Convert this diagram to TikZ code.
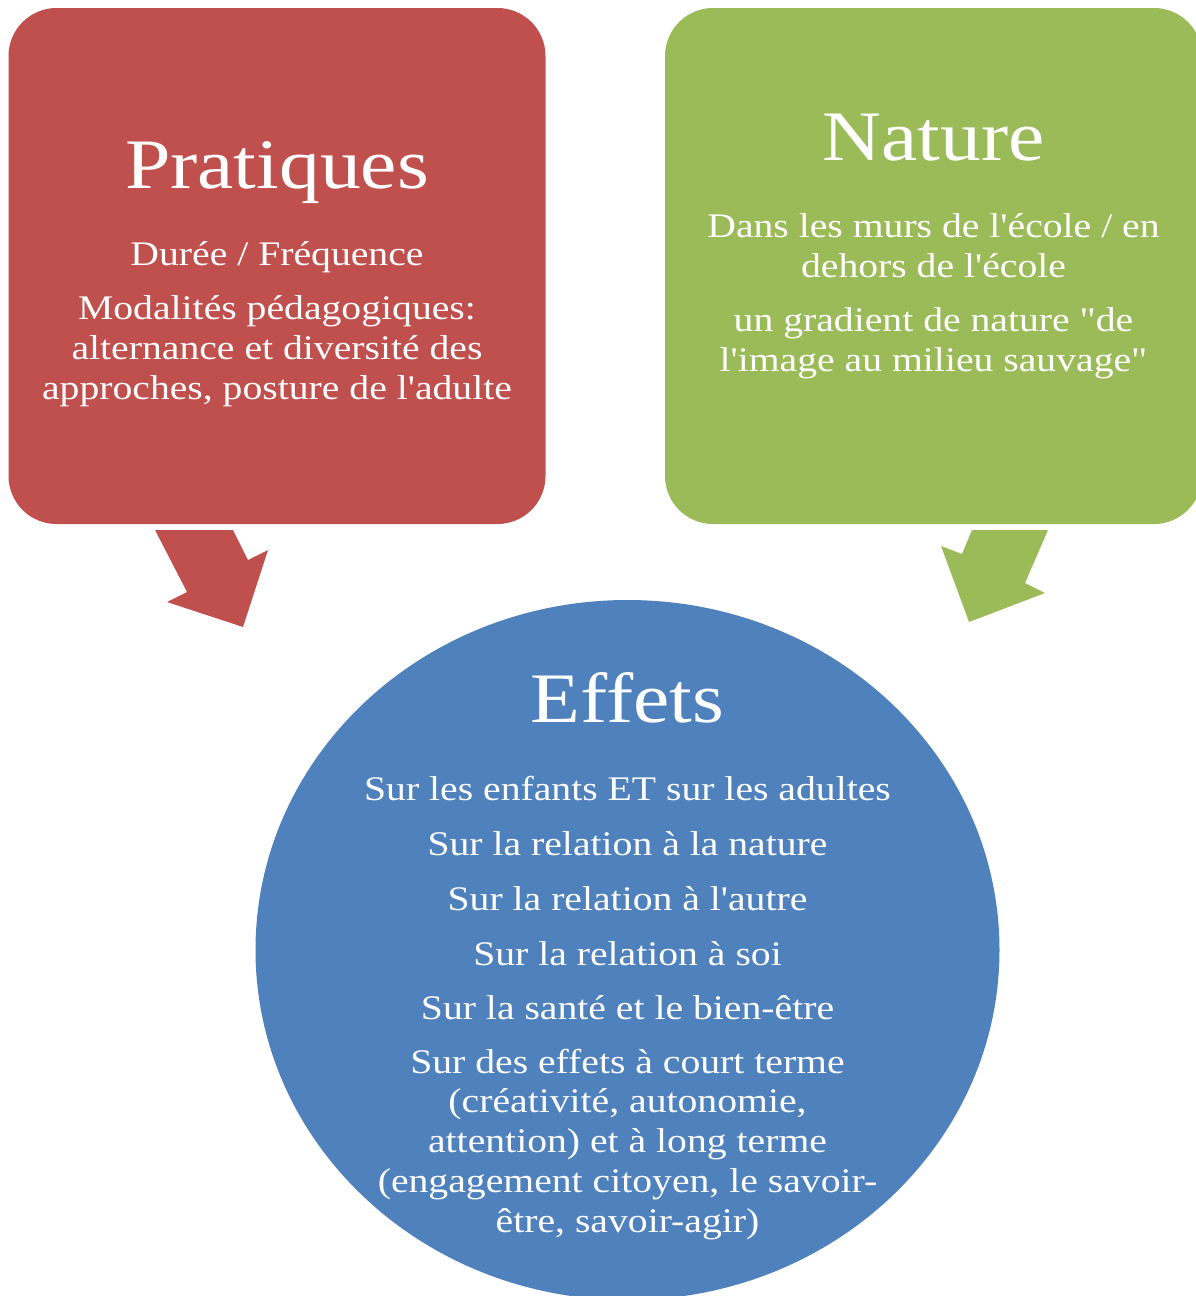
\documentclass[tikz,border=0pt]{standalone}
\usepackage{fontspec}
\setmainfont{Liberation Serif}[Ligatures=TeXOff, FakeStretch=1.15]
\usetikzlibrary{shapes.geometric}
\definecolor{pracred}{HTML}{C0504D}
\definecolor{natgreen}{HTML}{9BBB59}
\definecolor{effblue}{HTML}{4F81BD}

\begin{document}
\begin{tikzpicture}
	[x=1pt, y=-1pt,
	panel/.style={rounded corners=48pt, minimum width=537pt, minimum height=516pt, inner sep=0pt},
	headline/.style={text=white, anchor=base, font=\fontsize{71}{80}\selectfont},
	bodytext/.style={text=white, anchor=base, align=center, font=\fontsize{34.5}{39.75}\selectfont}]
	\clip (0,0) rectangle (1196,1296);
	\useasboundingbox (0,0) rectangle (1196,1296);

	% three blocks
	\node[panel, fill=pracred](prac) at (277,266) {};
	\node[panel, fill=natgreen](nat) at (933.5,266) {};
	\node[ellipse, fill=effblue, minimum width=744pt, minimum height=700pt, inner sep=0pt](eff) at (627.5,950) {};

	% block arrows
	\fill[pracred] (155,530) -- (233,530) -- (248,560) -- (268,550) -- (243,627) -- (167,602) -- (187,592) -- cycle;
	\fill[natgreen] (972,530) -- (1048,530) -- (1025,583) -- (1045,593) -- (969,622) -- (941,546) -- (962,554) -- cycle;

	% Pratiques (multi-line nodes sit on their last baseline)
	\node[headline](pracTitle) at (277,188) {Pratiques};
	\node[bodytext](pracA) at (277,265) {Durée / Fréquence};
	\node[bodytext](pracB) at (277,399) {Modalités pédagogiques:\\alternance et diversité des\\approches, posture de l'adulte};

	% Nature
	\node[headline](natTitle) at (933.5,160) {Nature};
	\node[bodytext](natA) at (933.5,277) {Dans les murs de l'école / en\\dehors de l'école};
	\node[bodytext](natB) at (933.5,371) {un gradient de nature "de\\l'image au milieu sauvage"};

	% Effets
	\node[headline](effTitle) at (627.5,722) {Effets};
	\node[bodytext](effA) at (627.5,800) {Sur les enfants ET sur les adultes};
	\node[bodytext](effB) at (627.5,855) {Sur la relation à la nature};
	\node[bodytext](effC) at (627.5,910) {Sur la relation à l'autre};
	\node[bodytext](effD) at (627.5,965) {Sur la relation à soi};
	\node[bodytext](effE) at (627.5,1019) {Sur la santé et le bien-être};
	\node[bodytext](effF) at (627.5,1232) {Sur des effets à court terme\\(créativité, autonomie,\\attention) et à long terme\\(engagement citoyen, le savoir-\\être, savoir-agir)};
\end{tikzpicture}
\end{document}
